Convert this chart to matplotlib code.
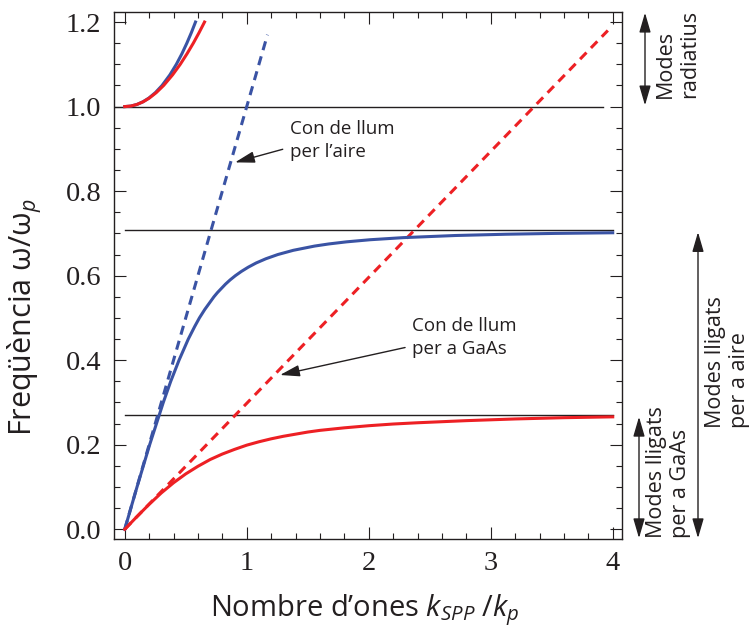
import matplotlib.pyplot as plt
from matplotlib import font_manager
from matplotlib.ticker import MultipleLocator
from matplotlib.transforms import blended_transform_factory

plt.rcParams['font.family'] = ['Open Sans', 'DejaVu Sans']
plt.rcParams['mathtext.fontset'] = 'custom'
plt.rcParams['mathtext.rm'] = 'Open Sans'
plt.rcParams['mathtext.it'] = 'Open Sans:italic'

BLUE = '#3a53a4'
RED = '#ed2024'
INK = '#231f20'

# SPP branch, metal / air (k_SPP/k_p, w/w_p)
air_k = [0, 0.1005, 0.2043, 0.316, 0.377, 0.445, 0.521, 0.574, 0.612, 0.656,
         0.731, 0.760, 0.826, 0.864, 0.907, 0.956, 1.012, 1.077, 1.157, 1.255,
         1.382, 1.556, 1.672, 1.818, 2.012, 2.285, 2.71, 3.125, 3.535, 4.0]
air_w = [0, 0.10, 0.20, 0.30, 0.35, 0.40, 0.45, 0.48, 0.50, 0.52,
         0.55, 0.56, 0.58, 0.59, 0.60, 0.61, 0.62, 0.63, 0.64, 0.65,
         0.66, 0.67, 0.675, 0.68, 0.685, 0.69, 0.695, 0.698, 0.70, 0.7015]

# SPP branch, metal / GaAs
gaas_k = [0, 0.1, 0.2, 0.3, 0.4, 0.5, 0.6, 0.7, 0.8, 0.9, 1.0, 1.1, 1.2,
          1.3, 1.4, 1.5, 1.6, 1.8, 2.0, 2.2, 2.4, 2.8, 3.2, 3.6, 4.0]
gaas_w = [0, 0.030, 0.059, 0.086, 0.110, 0.131, 0.149, 0.165, 0.178, 0.189,
          0.199, 0.207, 0.214, 0.220, 0.225, 0.230, 0.234, 0.240, 0.245,
          0.249, 0.252, 0.257, 0.261, 0.264, 0.266]

# radiative branches above w_p
rad_air_k = [0, 0.05, 0.0996, 0.149, 0.197, 0.251, 0.306, 0.370, 0.423,
             0.4686, 0.509, 0.5462, 0.58]
rad_air_w = [1.0, 1.00125, 1.005, 1.0113, 1.02, 1.033, 1.05, 1.075, 1.10,
             1.125, 1.15, 1.175, 1.20]
rad_gaas_k = [0, 0.05, 0.1001, 0.1506, 0.2006, 0.2583, 0.319, 0.392, 0.455,
              0.5105, 0.562, 0.6094, 0.654]
rad_gaas_w = [1.0, 1.00125, 1.005, 1.0113, 1.02, 1.033, 1.05, 1.075, 1.10,
              1.125, 1.15, 1.175, 1.20]

# light lines
light_air_k = [0, 1.17]
light_air_w = [0, 1.17]
light_gaas_k = [0, 3.96]
light_gaas_w = [0, 1.18]

# reference levels: w_p, surface plasmon limits
w_p = 1.0
w_sp_air = 0.707
w_sp_gaas = 0.27

x_ticks = [0, 1, 2, 3, 4]
x_ticklabels = ['0', '1', '2', '3', '4']
y_ticks = [0.0, 0.2, 0.4, 0.6, 0.8, 1.0, 1.2]
y_ticklabels = ['0.0', '0.2', '0.4', '0.6', '0.8', '1.0', '1.2']

serif_path = font_manager.findfont(font_manager.FontProperties(family='Liberation Serif'))
tick_font = font_manager.FontProperties(fname=serif_path, size=20.5)

fig = plt.figure(figsize=(7.52, 6.33), dpi=100)
ax = fig.add_axes([0.1516, 0.1485, 0.676, 0.8325])

ax.plot([-0.088, 3.92], [w_p, w_p], color=INK, lw=1.0, zorder=2)
ax.plot([0, 4.0], [w_sp_air, w_sp_air], color=INK, lw=1.0, zorder=2)
ax.plot([0, 4.0], [w_sp_gaas, w_sp_gaas], color=INK, lw=1.0, zorder=2)

ax.plot(light_air_k, light_air_w, color=BLUE, lw=2.2, dashes=(3.0, 2.1), zorder=3)
ax.plot(light_gaas_k, light_gaas_w, color=RED, lw=2.2, dashes=(3.0, 2.1), zorder=3)

for k, w, c in [(air_k, air_w, BLUE), (gaas_k, gaas_w, RED),
                (rad_air_k, rad_air_w, BLUE), (rad_gaas_k, rad_gaas_w, RED)]:
    ax.plot(k, w, color=c, lw=2.2, zorder=4, solid_joinstyle='round')

ax.set_xlim(-0.088, 4.079)
ax.set_ylim(-0.023, 1.2237)
ax.xaxis.set_minor_locator(MultipleLocator(0.2))
ax.yaxis.set_minor_locator(MultipleLocator(0.05))
ax.tick_params(which='both', direction='in', top=True, right=True,
               width=0.8, color=INK)
ax.tick_params(which='major', length=8.5, pad=9)
ax.tick_params(which='minor', length=4.5)
ax.set_xticks(x_ticks)
ax.set_yticks(y_ticks)
ax.set_xticklabels(x_ticklabels, fontproperties=tick_font, color=INK)
ax.set_yticklabels(y_ticklabels, fontproperties=tick_font, color=INK)
for sp in ax.spines.values():
    sp.set_linewidth(1.0)
    sp.set_color(INK)

ax.set_xlabel("Nombre d’ones $k_{SPP}$ /$k_p$", fontsize=21, color=INK)
ax.xaxis.set_label_coords(0.494, -0.100)
ax.set_ylabel("Freqüència ω/ω$_p$", fontsize=22, color=INK)
ax.yaxis.set_label_coords(-0.138, 0.421)

arrow_kw = dict(arrowstyle='-|>,head_length=1.2,head_width=0.35',
                mutation_scale=10, color=INK, lw=1.0, shrinkA=0, shrinkB=0)
ax.annotate('', xy=(0.904, 0.868), xytext=(1.295, 0.899), arrowprops=arrow_kw)
ax.annotate('', xy=(1.273, 0.365), xytext=(2.298, 0.430), arrowprops=arrow_kw)
ax.text(1.355, 0.968, 'Con de llum\nper l’aire', fontsize=13.5, color=INK,
        ha='left', va='top', linespacing=1.35)
ax.text(2.352, 0.502, 'Con de llum\nper a GaAs', fontsize=13.5, color=INK,
        ha='left', va='top', linespacing=1.35)

# mode ranges to the right of the frame
side = blended_transform_factory(fig.transFigure, ax.transData)
dbl_kw = dict(arrowstyle='<|-|>,head_length=1.2,head_width=0.35',
              mutation_scale=10, color=INK, lw=1.0, shrinkA=0, shrinkB=0)
ranges = [(645 / 752, 1.003, 1.222), (639 / 752, 0.266, -0.021),
          (698 / 752, 0.703, -0.021)]
for xf, y0, y1 in ranges:
    ax.annotate('', xy=(xf, y0), xytext=(xf, y1), xycoords=side,
                arrowprops=dbl_kw, annotation_clip=False)

side_labels = [(655 / 752, 1.020, 'Modes\nradiatius'),
               (646 / 752, -0.021, 'Modes lligats\nper a GaAs'),
               (705 / 752, 0.240, 'Modes lligats\nper a aire')]
for xf, yb, txt in side_labels:
    ax.text(xf, yb, txt, transform=side, rotation=90, fontsize=15.5,
            color=INK, ha='left', va='bottom', multialignment='left',
            linespacing=1.2, clip_on=False)

fig.savefig('out.png', dpi=100)
